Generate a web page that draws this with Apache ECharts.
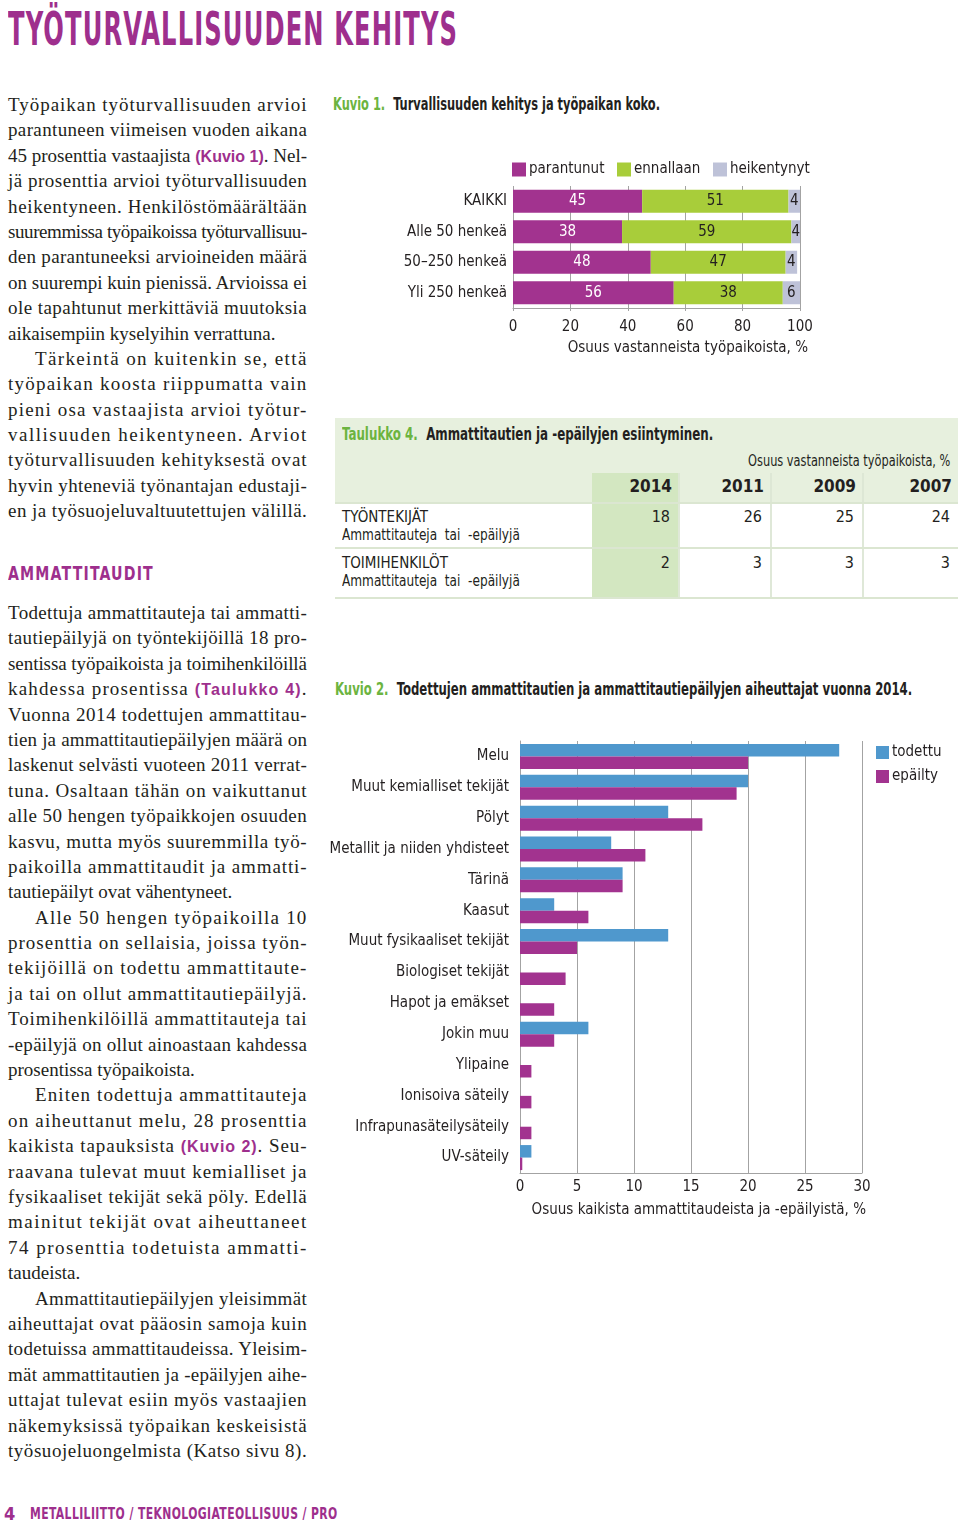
<!DOCTYPE html>
<html lang="fi"><head><meta charset="utf-8">
<script src="https://cdn.jsdelivr.net/npm/echarts/dist/echarts.min.js"></script>
<style>
body{margin:0;width:960px;height:1522px;position:relative;background:#fff;overflow:hidden;font-family:'Liberation Serif',serif;color:#231f20}
.abs{position:absolute;white-space:nowrap}
.cond{font-family:'DejaVu Sans Condensed','Liberation Sans Narrow','Roboto Condensed',Roboto,'Liberation Sans',sans-serif}
.fit{display:inline-block;white-space:nowrap;transform-origin:0 50%}
.fitr{display:inline-block;white-space:nowrap;transform-origin:100% 50%}
.col{position:absolute;left:8px;width:299px;font-size:19px;line-height:25.4px}
.ln{white-space:nowrap;height:25.4px}
.ln.ind{padding-left:27px}
.ref{font-family:'Liberation Sans',sans-serif;font-weight:bold;color:#9e2f8d;font-size:16px}
.purple{color:#9e2f8d}
.gcap{color:#6cb43f}
#tbl{position:absolute;left:335px;top:418px;width:623px;height:182px;background:#fff}
#tbl div{position:absolute;white-space:nowrap}
</style></head>
<body>
<div class="abs cond purple" style="left:8px;top:7px;font-weight:bold;font-size:47px;line-height:44px;letter-spacing:2px"><span class="fit" data-w="450">TYÖTURVALLISUUDEN KEHITYS</span></div>

<div class="col" style="top:92px">
<div class="ln j">Työpaikan työturvallisuuden arvioi</div>
<div class="ln j">parantuneen viimeisen vuoden aikana</div>
<div class="ln j">45 prosenttia vastaajista <span class="ref">(Kuvio 1)</span>. Nel-</div>
<div class="ln j">jä prosenttia arvioi työturvallisuuden</div>
<div class="ln j">heikentyneen. Henkilöstömäärältään</div>
<div class="ln j">suuremmissa työpaikoissa työturvallisuu-</div>
<div class="ln j">den parantuneeksi arvioineiden määrä</div>
<div class="ln j">on suurempi kuin pienissä. Arvioissa ei</div>
<div class="ln j">ole tapahtunut merkittäviä muutoksia</div>
<div class="ln">aikaisempiin kyselyihin verrattuna.</div>
<div class="ln j ind">Tärkeintä on kuitenkin se, että</div>
<div class="ln j">työpaikan koosta riippumatta vain</div>
<div class="ln j">pieni osa vastaajista arvioi työtur-</div>
<div class="ln j">vallisuuden heikentyneen. Arviot</div>
<div class="ln j">työturvallisuuden kehityksestä ovat</div>
<div class="ln j">hyvin yhteneviä työnantajan edustaji-</div>
<div class="ln j">en ja työsuojeluvaltuutettujen välillä.</div>
</div>

<div class="abs purple cond" style="left:8px;top:562px;font-weight:bold;font-size:20px;line-height:22px;letter-spacing:1.5px"><span class="fit" data-w="146">AMMATTITAUDIT</span></div>

<div class="col" style="top:600px">
<div class="ln j">Todettuja ammattitauteja tai ammatti-</div>
<div class="ln j">tautiepäilyjä on työntekijöillä 18 pro-</div>
<div class="ln j">sentissa työpaikoista ja toimihenkilöillä</div>
<div class="ln j">kahdessa prosentissa <span class="ref">(Taulukko 4)</span>.</div>
<div class="ln j">Vuonna 2014 todettujen ammattitau-</div>
<div class="ln j">tien ja ammattitautiepäilyjen määrä on</div>
<div class="ln j">laskenut selvästi vuoteen 2011 verrat-</div>
<div class="ln j">tuna. Osaltaan tähän on vaikuttanut</div>
<div class="ln j">alle 50 hengen työpaikkojen osuuden</div>
<div class="ln j">kasvu, mutta myös suuremmilla työ-</div>
<div class="ln j">paikoilla ammattitaudit ja ammatti-</div>
<div class="ln">tautiepäilyt ovat vähentyneet.</div>
<div class="ln j ind">Alle 50 hengen työpaikoilla 10</div>
<div class="ln j">prosenttia on sellaisia, joissa työn-</div>
<div class="ln j">tekijöillä on todettu ammattitaute-</div>
<div class="ln j">ja tai on ollut ammattitautiepäilyjä.</div>
<div class="ln j">Toimihenkilöillä ammattitauteja tai</div>
<div class="ln j">-epäilyjä on ollut ainoastaan kahdessa</div>
<div class="ln">prosentissa työpaikoista.</div>
<div class="ln j ind">Eniten todettuja ammattitauteja</div>
<div class="ln j">on aiheuttanut melu, 28 prosenttia</div>
<div class="ln j">kaikista tapauksista <span class="ref">(Kuvio 2)</span>. Seu-</div>
<div class="ln j">raavana tulevat muut kemialliset ja</div>
<div class="ln j">fysikaaliset tekijät sekä pöly. Edellä</div>
<div class="ln j">mainitut tekijät ovat aiheuttaneet</div>
<div class="ln j">74 prosenttia todetuista ammatti-</div>
<div class="ln">taudeista.</div>
<div class="ln j ind">Ammattitautiepäilyjen yleisimmät</div>
<div class="ln j">aiheuttajat ovat pääosin samoja kuin</div>
<div class="ln j">todetuissa ammattitaudeissa. Yleisim-</div>
<div class="ln j">mät ammattitautien ja -epäilyjen aihe-</div>
<div class="ln j">uttajat tulevat esiin myös vastaajien</div>
<div class="ln j">näkemyksissä työpaikan keskeisistä</div>
<div class="ln j">työsuojeluongelmista (Katso sivu 8).</div>
</div>

<div class="abs cond" style="left:333px;top:93px;font-size:17px;line-height:22px;font-weight:bold"><span class="fit" data-w="327"><span class="gcap">Kuvio 1.</span>&nbsp; Turvallisuuden kehitys ja työpaikan koko.</span></div>
<div id="c1" class="abs" style="left:330px;top:150px;width:500px;height:210px"></div>

<div id="tbl" class="cond"></div>

<div class="abs cond" style="left:335px;top:678px;font-size:17px;line-height:22px;font-weight:bold"><span class="fit" data-w="577"><span class="gcap">Kuvio 2.</span>&nbsp; Todettujen ammattitautien ja ammattitautiepäilyjen aiheuttajat vuonna 2014.</span></div>
<div id="c2" class="abs" style="left:330px;top:720px;width:630px;height:510px"></div>

<div class="abs cond purple" style="left:4px;top:1503px;font-size:18px;line-height:22px;font-weight:bold">4</div>
<div class="abs cond purple" style="left:30px;top:1504px;font-size:15px;line-height:20px;font-weight:bold;letter-spacing:0.5px"><span class="fit" data-w="308">METALLILIITTO / TEKNOLOGIATEOLLISUUS / PRO</span></div>

<script>
// ---------- DATA ----------
const c1Categories = ['KAIKKI', 'Alle 50 henkeä', '50\u2013250 henkeä', 'Yli 250 henkeä'];
const c1Parantunut = [45, 38, 48, 56];
const c1Ennallaan = [51, 59, 47, 38];
const c1Heikentynyt = [4, 4, 4, 6];
const c1SeriesNames = ['parantunut', 'ennallaan', 'heikentynyt'];
const c1AxisName = 'Osuus vastanneista työpaikoista, %';

const c2Categories = ['Melu', 'Muut kemialliset tekijät', 'Pölyt', 'Metallit ja niiden yhdisteet', 'Tärinä', 'Kaasut', 'Muut fysikaaliset tekijät', 'Biologiset tekijät', 'Hapot ja emäkset', 'Jokin muu', 'Ylipaine', 'Ionisoiva säteily', 'Infrapunasäteilysäteily', 'UV-säteily'];
const c2Todettu = [28, 20, 13, 8, 9, 3, 13, 0, 0, 6, 0, 0, 0, 1];
const c2Epailty = [20, 19, 16, 11, 9, 6, 5, 4, 3, 3, 1, 1, 1, 0.2];
const c2SeriesNames = ['todettu', 'epäilty'];
const c2AxisName = 'Osuus kaikista ammattitaudeista ja -epäilyistä, %';

const tableTitle = 'Ammattitautien ja -epäilyjen esiintyminen.';
const tableUnit = 'Osuus vastanneista työpaikoista, %';
const tableYears = ['2014', '2011', '2009', '2007'];
const tableRowNames = ['TYÖNTEKIJÄT', 'TOIMIHENKILÖT'];
const tableRowSub = 'Ammattitauteja  tai  -epäilyjä';
const tableTyontekijat = [18, 26, 25, 24];
const tableToimihenkilot = [2, 3, 3, 3];

// ---------- STYLE ----------
const PURPLE = '#a2338f', GREEN = '#a8cd3a', LAV = '#bec2d8', BLUE = '#4f98cd';
const TXT = '#231f20', GRIDC = '#a3a3a3';
const CF = "'DejaVu Sans Condensed','Liberation Sans Narrow','Roboto Condensed',Roboto,sans-serif";
const FS = 15;

// ---------- TABLE ----------
(function () {
  const t = document.getElementById('tbl');
  const add = (css, html) => { const d = document.createElement('div'); d.style.cssText = css; if (html !== undefined) d.innerHTML = html; t.appendChild(d); return d; };
  add('left:0;top:0;width:623px;height:84px;background:#e7f0de');
  add('left:257px;top:55px;width:86px;height:125px;background:#d3e7c1');
  const colRight = [343, 435, 527, 623];
  [343, 435, 527].forEach(x => add('left:' + x + 'px;top:55px;width:2px;height:125px;background:rgba(220,230,212,0.9)'));
  add('left:0;top:84px;width:623px;height:2px;background:#dbe6d1');
  add('left:0;top:129px;width:623px;height:2px;background:#dbe6d1');
  add('left:0;top:179px;width:623px;height:2px;background:#dbe6d1');
  add('left:7px;top:5px;font-size:17px;line-height:22px;font-weight:bold', '<span class="fit" data-w="371"><span class="gcap">Taulukko 4.</span>&nbsp; ' + tableTitle + '</span>');
  add('right:8px;top:33px;font-size:16px;line-height:20px', '<span class="fitr" data-w="202">' + tableUnit + '</span>');
  tableYears.forEach((y, i) => add('right:' + (623 - colRight[i] + 6) + 'px;top:57px;font-size:17px;line-height:22px;font-weight:bold', y));
  const rows = [tableTyontekijat, tableToimihenkilot];
  rows.forEach((vals, r) => {
    const top = 89 + r * 46;
    add('left:7px;top:' + top + 'px;font-size:15px;line-height:20px', tableRowNames[r]);
    add('left:7px;top:' + (top + 18) + 'px;font-size:15px;line-height:20px;white-space:pre', '<span class="fit" data-w="178" style="white-space:pre">' + tableRowSub + '</span>');
    vals.forEach((v, i) => add('right:' + (623 - colRight[i] + 8) + 'px;top:' + top + 'px;font-size:16px;line-height:20px', String(v)));
  });
})();

// ---------- CHART 1 ----------
const c1 = echarts.init(document.getElementById('c1'), null, { renderer: 'canvas' });
const legendItem = (name, left) => ({ data: [name], left: left, top: 12, itemWidth: 14, itemHeight: 14, padding: 0, itemGap: 0, icon: 'rect', selectedMode: false, textStyle: { fontFamily: CF, fontSize: FS, color: TXT, padding: [0, 0, 0, -2] } });
c1.setOption({
  animation: false,
  legend: [legendItem(c1SeriesNames[0], 182), legendItem(c1SeriesNames[1], 287), legendItem(c1SeriesNames[2], 383)],
  grid: { left: 183, top: 36, width: 287, height: 122, containLabel: false, outerBoundsMode: 'none' },
  xAxis: {
    type: 'value', min: 0, max: 100, interval: 20,
    axisLine: { show: true, lineStyle: { color: GRIDC } },
    axisTick: { show: true, length: 3, lineStyle: { color: GRIDC } },
    splitLine: { show: true, lineStyle: { color: GRIDC, width: 1 } },
    axisLabel: { fontFamily: CF, fontSize: FS, color: TXT, margin: 12 }
  },
  yAxis: {
    type: 'category', data: c1Categories, inverse: true,
    axisLine: { show: false }, axisTick: { show: false },
    axisLabel: { fontFamily: CF, fontSize: FS, color: TXT, margin: 6 }
  },
  graphic: [{ type: 'text', right: 22, top: 191, style: { text: c1AxisName, font: FS + 'px ' + CF, fill: TXT } }],
  series: [
    { name: c1SeriesNames[0], type: 'bar', stack: 's', data: c1Parantunut, barWidth: 23, itemStyle: { color: PURPLE },
      label: { show: true, position: 'inside', color: '#fff', fontFamily: CF, fontSize: FS } },
    { name: c1SeriesNames[1], type: 'bar', stack: 's', data: c1Ennallaan, barWidth: 23, itemStyle: { color: GREEN },
      label: { show: true, position: 'inside', color: TXT, fontFamily: CF, fontSize: FS } },
    { name: c1SeriesNames[2], type: 'bar', stack: 's', data: c1Heikentynyt, barWidth: 23, itemStyle: { color: LAV },
      label: { show: true, position: 'inside', color: TXT, fontFamily: CF, fontSize: FS } }
  ]
});

// ---------- CHART 2 ----------
const c2 = echarts.init(document.getElementById('c2'), null, { renderer: 'canvas' });
c2.setOption({
  animation: false,
  legend: { orient: 'vertical', left: 546, top: 25, itemWidth: 13, itemHeight: 13, itemGap: 9, padding: 0, icon: 'rect', selectedMode: false,
    data: c2SeriesNames, textStyle: { fontFamily: CF, fontSize: FS, color: TXT, padding: [0, 0, 0, -2] } },
  grid: { left: 190, top: 21, width: 342, height: 432, containLabel: false, outerBoundsMode: 'none' },
  xAxis: {
    type: 'value', min: 0, max: 30, interval: 5,
    axisLine: { show: true, lineStyle: { color: GRIDC } },
    axisTick: { show: false },
    splitLine: { show: true, lineStyle: { color: GRIDC, width: 1 } },
    axisLabel: { fontFamily: CF, fontSize: FS, color: TXT, margin: 7 }
  },
  yAxis: {
    type: 'category', data: c2Categories, inverse: true,
    axisLine: { show: true, lineStyle: { color: GRIDC } }, axisTick: { show: false },
    axisLabel: { fontFamily: CF, fontSize: FS, color: TXT, margin: 11 }
  },
  graphic: [{ type: 'text', right: 94, top: 483, style: { text: c2AxisName, font: FS + 'px ' + CF, fill: TXT } }],
  series: [
    { name: c2SeriesNames[0], type: 'bar', data: c2Todettu, barWidth: 12.5, barGap: '0%', itemStyle: { color: BLUE } },
    { name: c2SeriesNames[1], type: 'bar', data: c2Epailty, barWidth: 12.5, barGap: '0%', itemStyle: { color: PURPLE } }
  ]
});

// ---------- TEXT FITTING ----------
function layoutText() {
  document.querySelectorAll('.ln').forEach(el => {
    if (!el.dataset.done) { el.innerHTML = '<span class="in">' + el.innerHTML + '</span>'; el.dataset.done = 1; }
    const ind = el.classList.contains('ind') ? 27 : 0;
    const target = 299 - ind;
    el.style.wordSpacing = ''; el.style.letterSpacing = '';
    const span = el.firstElementChild;
    const w = span.getBoundingClientRect().width;
    const text = el.textContent;
    const extra = target - w;
    if (extra < 0 || el.classList.contains('j')) {
      el.style.letterSpacing = (extra / (text.length - 0.5)) + 'px';
    }
  });
  document.querySelectorAll('.fit, .fitr').forEach(el => {
    el.style.transform = '';
    const w = el.offsetWidth;
    const t = parseFloat(el.dataset.w);
    if (w > 0) el.style.transform = 'scaleX(' + (t / w) + ')';
  });
}
layoutText();
if (document.fonts && document.fonts.ready) document.fonts.ready.then(layoutText);
</script>
</body></html>
